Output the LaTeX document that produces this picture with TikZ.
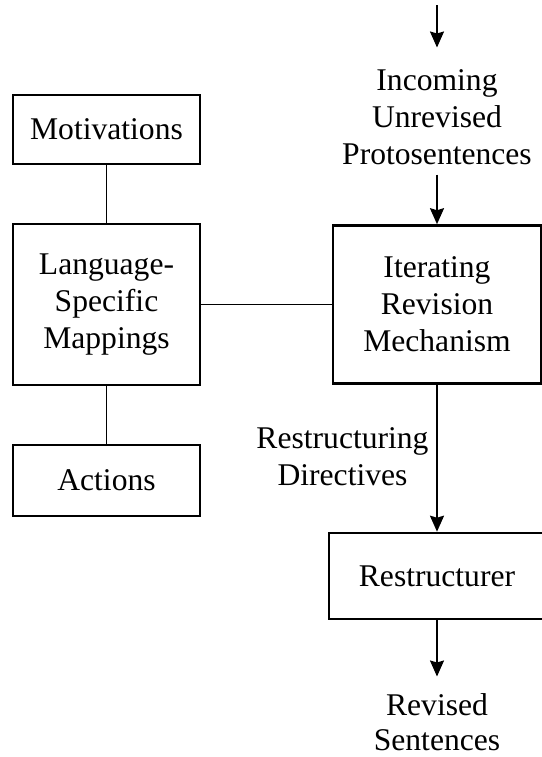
\documentclass[tikz,border=0pt]{standalone}
\usepackage{fontspec}
\setmainfont{Liberation Serif}
\usetikzlibrary{arrows.meta}
\begin{document}
\begin{tikzpicture}[x=0.5pt,y=-0.5pt,
  every node/.style={font=\fontsize{15.8}{18.5}\selectfont, align=center},
  box/.style={draw, line width=1.3pt, inner sep=0pt},
  lbl/.style={inner sep=0pt},
  conn/.style={line width=0.9pt},
  arr/.style={line width=0.9pt, -{Stealth[length=8pt,width=7pt,inset=1pt]}}]
\useasboundingbox (0,0) rectangle (542,757);
\node[box, minimum width=93.5pt, minimum height=34.5pt] (mot) at (106.5,129.5) {Motivations};
\node[box, minimum width=93.5pt, minimum height=80.5pt] (lang) at (106.5,304.5) {Language-\\Specific\\Mappings};
\node[box, minimum width=93.5pt, minimum height=35.5pt] (act) at (106.5,480.5) {Actions};
\node[box, minimum width=104pt, minimum height=79pt] (irm) at (437,304.5) {Iterating\\Revision\\Mechanism};
\node[box, minimum width=108pt, minimum height=43pt] (rst) at (437,576) {Restructurer};
\node[lbl] (inc) at (437,117) {Incoming\\Unrevised\\Protosentences};
\node[lbl] (dir) at (342.5,456.5) {Restructuring\\Directives};
\node[lbl, font=\fontsize{15.8}{17.5}\selectfont] (rev) at (437,722) {Revised\\Sentences};
\coordinate (top) at (437,5);
\draw[conn] (mot) -- (lang);
\draw[conn] (lang) -- (act);
\draw[conn] (lang) -- (irm);
\draw[arr, shorten >=10.75pt] (top) -- (inc.north);
\draw[arr, shorten <=4.75pt] (inc.south) -- (irm.north);
\draw[arr] (irm.south) -- (rst.north);
\draw[arr, shorten >=8.25pt] (rst.south) -- (rev.north);
\end{tikzpicture}
\end{document}
